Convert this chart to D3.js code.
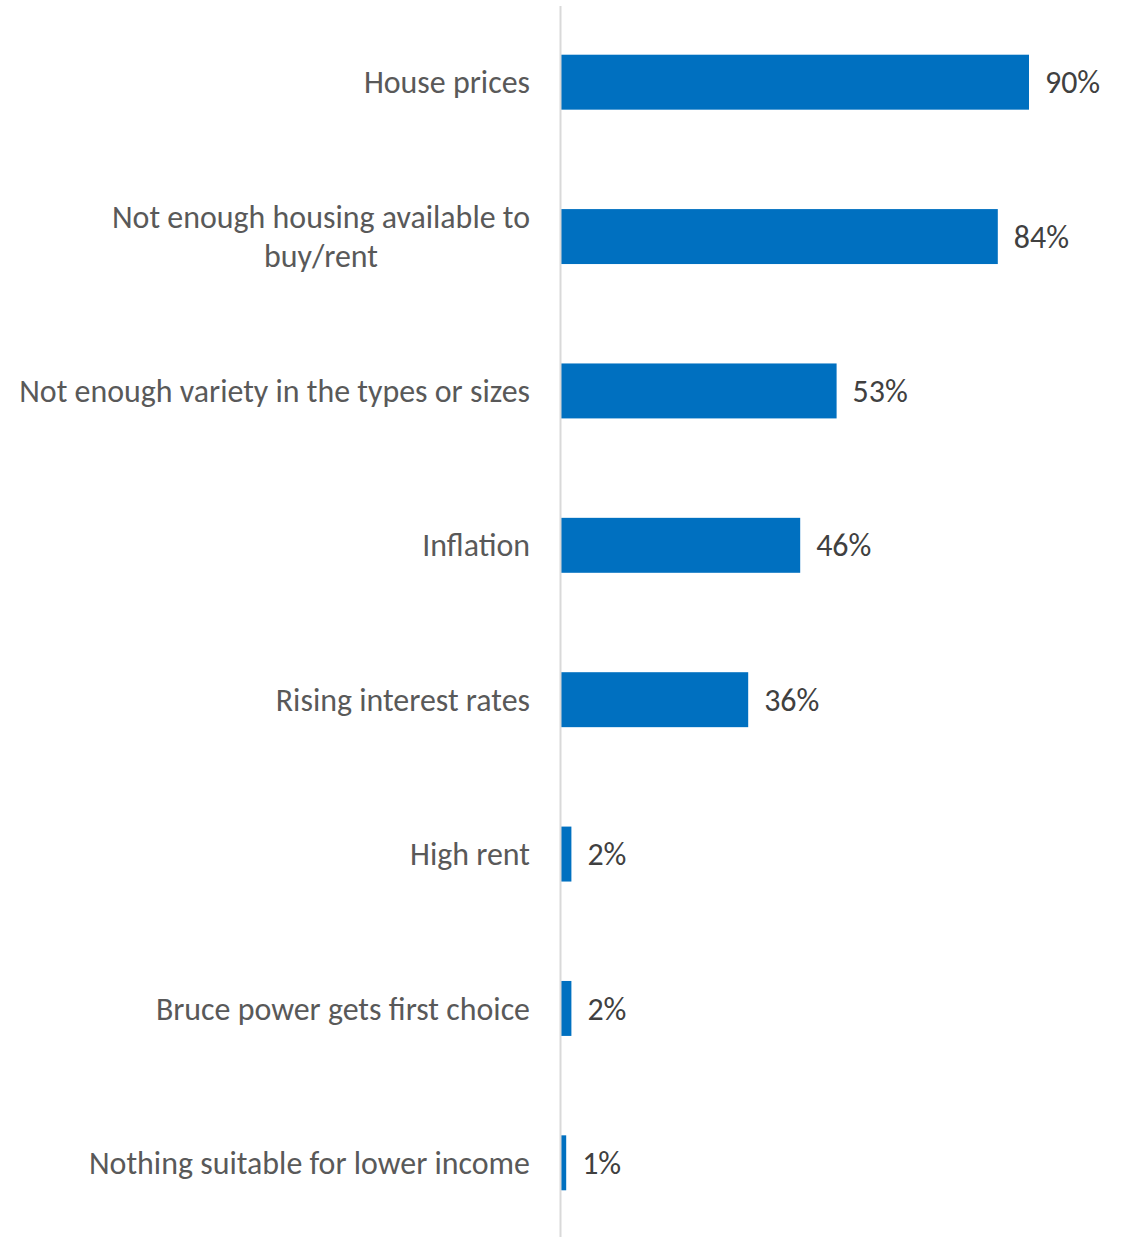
<!DOCTYPE html>
<html>
<head>
<meta charset="utf-8">
<script src="https://cdn.jsdelivr.net/npm/d3@7"></script>
<style>
  html, body { margin: 0; padding: 0; background: #fff; }
  svg { display: block; }
</style>
</head>
<body>
<svg id="chart" width="1132" height="1237"></svg>
<script>
const categories = [
  ["House prices"],
  ["Not enough housing available to", "buy/rent"],
  ["Not enough variety in the types or sizes"],
  ["Inflation"],
  ["Rising interest rates"],
  ["High rent"],
  ["Bruce power gets first choice"],
  ["Nothing suitable for lower income"]
];
const values = [90, 84, 53, 46, 36, 2, 2, 1];
const valueLabels = ["90%", "84%", "53%", "46%", "36%", "2%", "2%", "1%"];

const svg = d3.select("#chart");
const fontFamily = "Carlito, 'Open Sans', sans-serif";
const barColor = "#0070C0";

const keys = categories.map((c, i) => "c" + i);
const y = d3.scaleBand().domain(keys).range([5, 1240]).paddingInner(0.644).paddingOuter(0.322);
const x = d3.scaleLinear().domain([0, 100]).range([561, 1081]);

// Determine font size so the longest label fits its reference width (~511px)
const probe = svg.append("text").attr("font-family", fontFamily).attr("font-size", 100)
  .text("Not enough variety in the types or sizes");
const w100 = probe.node().getComputedTextLength();
probe.remove();
const fs = 100 * 511 / w100;

// bars
svg.append("g").selectAll("rect").data(values).join("rect")
  .attr("x", x(0))
  .attr("y", (d, i) => y(keys[i]))
  .attr("width", d => x(d) - x(0))
  .attr("height", y.bandwidth())
  .attr("fill", barColor);

// axis line
svg.append("line")
  .attr("x1", 560.5).attr("x2", 560.5)
  .attr("y1", 6).attr("y2", 1237)
  .attr("stroke", "#d9d9d9").attr("stroke-width", 2);

// category labels
const labelRight = 530;
const lineH = 39;
const lg = svg.append("g").attr("font-family", fontFamily).attr("font-size", fs).attr("fill", "#595959");
categories.forEach((lines, i) => {
  const cy = y(keys[i]) + y.bandwidth() / 2;
  const t = lg.append("text").attr("text-anchor", "middle");
  lines.forEach((ln, j) => {
    t.append("tspan").text(ln)
      .attr("y", cy + (j - (lines.length - 1) / 2) * lineH)
      .attr("dy", "0.35em");
  });
  let maxW = 0;
  t.selectAll("tspan").each(function () { maxW = Math.max(maxW, this.getComputedTextLength()); });
  t.selectAll("tspan").attr("x", labelRight - maxW / 2);
});

// value labels
svg.append("g").attr("font-family", fontFamily).attr("font-size", fs).attr("fill", "#404040")
  .selectAll("text").data(values).join("text")
  .attr("x", d => x(d) + 16)
  .attr("y", (d, i) => y(keys[i]) + y.bandwidth() / 2)
  .attr("dy", "0.35em")
  .text((d, i) => valueLabels[i]);
</script>
</body>
</html>
